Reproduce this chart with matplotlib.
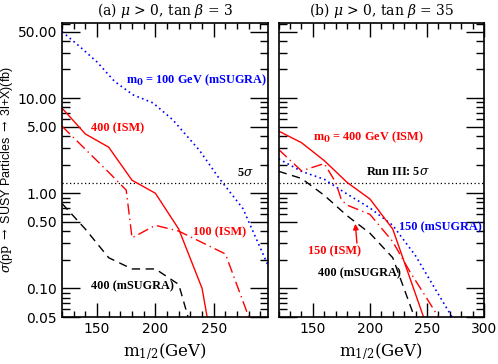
import numpy as np
import matplotlib
matplotlib.use('Agg')
import matplotlib.pyplot as plt
from matplotlib.ticker import FixedLocator, FixedFormatter, NullFormatter

plt.rcParams['font.family'] = ['DejaVu Sans']
plt.rcParams['mathtext.fontset'] = 'dejavuserif'

# ---------------- data: panel (a) tan beta = 3 ----------------
A_SUGRA100_X = [120, 135, 150, 165, 181, 198, 215, 238, 254, 258, 275, 296]
A_SUGRA100_Y = [50, 35, 24, 15, 10.8, 8.9, 5.9, 2.8, 1.47, 1.27, 0.69, 0.18]
A_ISM400_X = [120, 140, 160, 180, 200, 220, 240, 245]
A_ISM400_Y = [7.85, 4.2, 3.05, 1.37, 1.0, 0.42, 0.10, 0.045]
A_ISM100_X = [120, 140, 160, 175, 180, 200, 220, 260, 280]
A_ISM100_Y = [5.07, 2.9, 1.66, 1.08, 0.34, 0.46, 0.40, 0.23, 0.05]
A_SUGRA400_X = [120, 140, 160, 180, 200, 220, 228]
A_SUGRA400_Y = [0.78, 0.42, 0.21, 0.16, 0.16, 0.11, 0.05]

# ---------------- data: panel (b) tan beta = 35 ----------------
B_ISM400_X = [120, 140, 160, 180, 200, 220, 247]
B_ISM400_Y = [4.5, 3.4, 2.2, 1.3, 0.87, 0.42, 0.05]
B_ISM150_X = [120, 140, 160, 170, 175, 180, 200, 220, 235, 250, 260]
B_ISM150_Y = [2.88, 1.72, 2.05, 1.3, 0.85, 0.75, 0.6, 0.31, 0.15, 0.078, 0.05]
B_SUGRA150_X = [120, 140, 160, 180, 200, 220, 240, 258, 272]
B_SUGRA150_Y = [2.3, 1.7, 1.4, 0.98, 0.70, 0.46, 0.22, 0.095, 0.05]
B_SUGRA400_X = [120, 140, 160, 180, 200, 220, 239]
B_SUGRA400_Y = [1.7, 1.43, 0.95, 0.58, 0.38, 0.21, 0.05]

FIVE_SIGMA = 1.28
Y_MAJOR = [0.05, 0.1, 0.5, 1, 5, 10, 50]
Y_MAJOR_LBL = ['0.05', '0.10', '0.50', '1.00', '5.00', '10.00', '50.00']
Y_MINOR = [0.06, 0.07, 0.08, 0.09, 0.2, 0.3, 0.4, 0.6, 0.7, 0.8, 0.9,
           2, 3, 4, 6, 7, 8, 9, 20, 30, 40, 60]

RED = '#ff0000'
BLUE = '#0000ff'
SERIF = 'DejaVu Serif'
LSERIF = 'Liberation Serif'

fig = plt.figure(figsize=(4.98, 3.64), dpi=100)
axa = fig.add_axes([0.1245, 0.1291, 0.4137, 0.8077])
axb = fig.add_axes([0.5596, 0.1291, 0.4123, 0.8077])


def style(ax, xmax, xticks, labels_y):
    ax.set_yscale('log')
    ax.set_ylim(0.05, 61.6)
    ax.set_xlim(120, xmax)
    ax.yaxis.set_major_locator(FixedLocator(Y_MAJOR))
    ax.yaxis.set_minor_locator(FixedLocator(Y_MINOR))
    ax.yaxis.set_minor_formatter(NullFormatter())
    if labels_y:
        ax.yaxis.set_major_formatter(FixedFormatter(Y_MAJOR_LBL))
    else:
        ax.yaxis.set_major_formatter(NullFormatter())
    ax.xaxis.set_major_locator(FixedLocator(xticks))
    ax.xaxis.set_minor_locator(FixedLocator(np.arange(120, 301, 10)))
    ax.tick_params(axis='both', which='both', direction='in', top=True, right=True,
                   labelsize=10, width=1.0)
    ax.tick_params(axis='x', which='major', length=10)
    ax.tick_params(axis='x', which='minor', length=4)
    ax.tick_params(axis='y', which='major', length=13)
    ax.tick_params(axis='y', which='minor', length=6)
    for s in ax.spines.values():
        s.set_linewidth(1.2)
    ax.axhline(FIVE_SIGMA, color='black', ls=(0, (1, 2)), lw=0.9)
    ax.set_xlabel(r'm$_{1/2}$(GeV)', fontsize=12, family=SERIF)


style(axa, 296.5, [150, 200, 250], True)
style(axb, 300, [150, 200, 250, 300], False)

# panel (a)
axa.plot(A_SUGRA100_X, A_SUGRA100_Y, color=BLUE, ls=(0, (1, 2)), lw=1.2)
axa.plot(A_ISM400_X, A_ISM400_Y, color=RED, ls='-', lw=1.0)
axa.plot(A_ISM100_X, A_ISM100_Y, color=RED, ls=(0, (8, 3, 1, 3)), lw=1.0)
axa.plot(A_SUGRA400_X, A_SUGRA400_Y, color='black', ls=(0, (6, 4)), lw=1.0)

tkw = dict(family=LSERIF, fontsize=8.8, fontweight='bold', va='center', ha='left')
axa.text(175, 15.5, r'm$_\mathbf{0}$ = 100 GeV (mSUGRA)', color=BLUE, **tkw)
axa.text(145, 4.8, '400 (ISM)', color=RED, **tkw)
axa.text(270, 1.62, r'5$\sigma$', color='black', **tkw)
axa.text(232, 0.39, '100 (ISM)', color=RED, **tkw)
axa.text(145, 0.105, '400 (mSUGRA)', color='black', **tkw)
axa.set_ylabel(r'$\sigma$(p$\overline{\mathrm{p}}$ $\rightarrow$ SUSY Particles $\rightarrow$ 3l+X)(fb)',
               fontsize=9, family='Liberation Sans')
axa.yaxis.set_label_coords(-0.225, 0.5)
axa.set_title(r'(a) $\mu$ > 0, tan $\beta$ = 3', fontsize=10, family=SERIF, pad=6)

# panel (b)
axb.plot(B_SUGRA150_X, B_SUGRA150_Y, color=BLUE, ls=(0, (1, 2)), lw=1.2)
axb.plot(B_ISM400_X, B_ISM400_Y, color=RED, ls='-', lw=1.0)
axb.plot(B_ISM150_X, B_ISM150_Y, color=RED, ls=(0, (8, 3, 1, 3)), lw=1.0)
axb.plot(B_SUGRA400_X, B_SUGRA400_Y, color='black', ls=(0, (6, 4)), lw=1.0)

axb.text(150, 3.9, r'm$_\mathbf{0}$ = 400 GeV (ISM)', color=RED, **tkw)
axb.text(196.7, 1.66, r'Run III: 5$\sigma$', color='black', **tkw)
axb.text(225.7, 0.44, '150 (mSUGRA)', color=BLUE, **tkw)
axb.text(145.8, 0.245, '150 (ISM)', color=RED, **tkw)
axb.text(154.6, 0.144, '400 (mSUGRA)', color='black', **tkw)
axb.annotate('', xy=(187, 0.51), xytext=(188.8, 0.28),
             arrowprops=dict(arrowstyle='-|>', color=RED, lw=1.0, mutation_scale=8))
axb.set_title(r'(b) $\mu$ > 0, tan $\beta$ = 35', fontsize=10, family=SERIF, pad=6)

fig.savefig('out.png', dpi=100)
